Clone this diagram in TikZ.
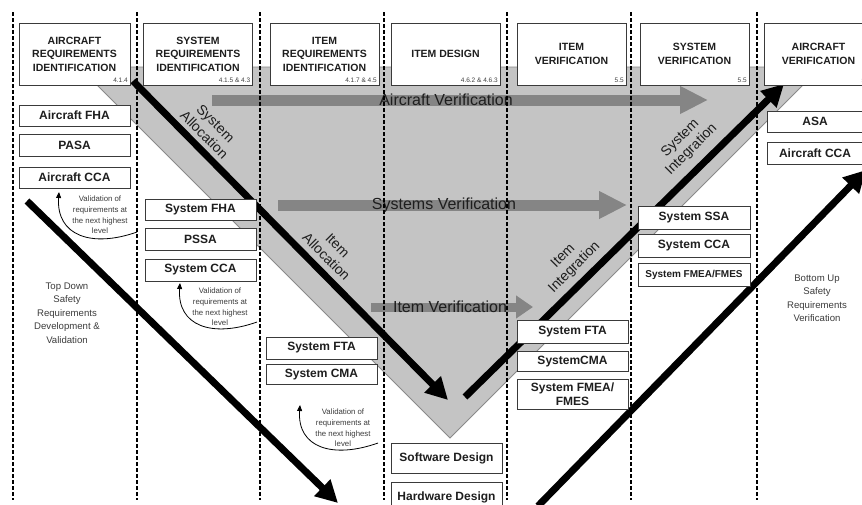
\documentclass[tikz,border=0pt]{standalone}
\usepackage{fontspec}
\setmainfont{Liberation Sans}
\usetikzlibrary{arrows.meta}
\definecolor{vfill}{HTML}{C4C4C4}
\definecolor{vedge}{HTML}{8A8A8A}
\definecolor{varw}{HTML}{858585}
\definecolor{boxline}{HTML}{3A3A3A}
\definecolor{ink}{HTML}{1E1E1E}
\definecolor{note}{HTML}{3C3C3C}
\begin{document}
\begin{tikzpicture}[x=1pt,y=-1pt,
  lane/.style={line width=1.6pt, dash pattern=on 4pt off 2pt, black},
  hdr/.style={draw=boxline, fill=white, line width=0.9pt, inner sep=0pt,
    minimum width=109pt, minimum height=62pt, align=center, text=ink,
    font=\bfseries\fontsize{10.5}{13.5}\selectfont},
  num/.style={inner sep=0pt, anchor=south east, xshift=-2.5pt, yshift=2.5pt,
    font=\fontsize{6.5}{7}\selectfont, text=ink!85},
  tbox/.style={draw=boxline, fill=white, line width=0.9pt, inner sep=0pt,
    minimum width=111pt, minimum height=22pt, align=center, text=ink,
    font=\bfseries\fontsize{12}{14}\selectfont},
  vnote/.style={align=center, inner sep=0pt, text=note,
    font=\fontsize{7.8}{10.8}\selectfont},
  side/.style={align=center, inner sep=0pt, text=note,
    font=\fontsize{9.6}{13.5}\selectfont},
  flow/.style={align=center, inner sep=0pt, text=ink,
    font=\fontsize{14}{16}\selectfont},
  vlabel/.style={inner sep=0pt, text=ink, font=\fontsize{16}{18}\selectfont},
  bigarrow/.style={line width=7pt, -{Triangle[length=22pt,width=22pt]}},
  grayarrow/.style={draw=varw, line width=11pt, -{Triangle[length=28pt,width=26pt]}},
  valarrow/.style={line width=0.8pt, -{Triangle[length=6pt,width=5pt]}}
]
\useasboundingbox (0,0) rectangle (862,504);
\clip (0,0) rectangle (862,504);
\fill[white] (0,0) rectangle (862,504);

% the V of development and verification
\filldraw[fill=vfill, draw=vedge, line width=0.8pt] (79,67) -- (821,67) -- (450,438) -- cycle;

% horizontal verification flows
\coordinate (av0) at (212,100); \coordinate (av1) at (708,100);
\coordinate (sv0) at (278,205); \coordinate (sv1) at (627,205);
\coordinate (iv0) at (371,307); \coordinate (iv1) at (533,307);
\draw[grayarrow] (av0) -- (av1);
\draw[grayarrow] (sv0) -- (sv1);
\draw[draw=varw, line width=9pt, -{Triangle[length=17pt,width=22pt]}] (iv0) -- (iv1);
\node[vlabel] (avl) at (446,100) {Aircraft Verification};
\node[vlabel] (svl) at (444,205) {Systems Verification};
\node[vlabel] (ivl) at (450,307) {Item Verification};

% lane separators
\foreach \lx in {13,137,260,384,507,631,757}
  \draw[lane] (\lx,12) -- (\lx,500);

% main flows
\coordinate (sa0) at (133,81);  \coordinate (sa1) at (448,400);
\coordinate (ii0) at (465,397); \coordinate (ii1) at (784,84);
\coordinate (td0) at (27,201);  \coordinate (td1) at (338,503);
\coordinate (bu0) at (538,506); \coordinate (bu1) at (866,170);
\draw[bigarrow] (sa0) -- (sa1);
\draw[bigarrow] (ii0) -- (ii1);
\draw[bigarrow] (td0) -- (td1);
\draw[bigarrow] (bu0) -- (bu1);

\node[flow, rotate=-45] (sal) at (210,129) {System\\Allocation};
\node[flow, rotate=-45] (ial) at (332,251) {Item\\Allocation};
\node[flow, rotate=45] (iil) at (569,262) {Item\\Integration};
\node[flow, rotate=45] (sil) at (686,144) {System\\Integration};

% lane headers
\node[hdr, minimum width=111pt] (h1) at (74.5,54) {AIRCRAFT\\REQUIREMENTS\\IDENTIFICATION};
\node[hdr] (h2) at (198,54) {SYSTEM\\REQUIREMENTS\\IDENTIFICATION};
\node[hdr] (h3) at (324.5,54) {ITEM\\REQUIREMENTS\\IDENTIFICATION};
\node[hdr] (h4) at (445.5,54) {ITEM DESIGN};
\node[hdr] (h5) at (571.5,54) {ITEM\\VERIFICATION};
\node[hdr] (h6) at (694.5,54) {SYSTEM\\VERIFICATION};
\node[hdr] (h7) at (818.5,54) {AIRCRAFT\\VERIFICATION};
\node[num] at (h1.south east) {4.1.4};
\node[num] at (h2.south east) {4.1.5 \& 4.3};
\node[num] at (h3.south east) {4.1.7 \& 4.5};
\node[num] at (h4.south east) {4.6.2 \& 4.6.3};
\node[num] at (h5.south east) {5.5};
\node[num] at (h6.south east) {5.5};
\node[num] at (h7.south east) {5.5};

% aircraft level analyses
\node[tbox, minimum height=21pt] (afha) at (74.5,115.5) {Aircraft FHA};
\node[tbox] (pasa) at (74.5,145) {PASA};
\node[tbox, minimum height=21pt] (acca) at (74.5,177.5) {Aircraft CCA};

% system level analyses
\node[tbox, minimum height=21pt] (sfha) at (200.5,209.5) {System FHA};
\node[tbox] (pssa) at (200.5,239) {PSSA};
\node[tbox] (scca) at (200.5,270) {System CCA};

% item requirement analyses
\node[tbox] (sfta) at (321.5,348) {System FTA};
\node[tbox, minimum height=20pt] (scma) at (321.5,374.5) {System CMA};

% item design
\node[tbox, minimum height=30pt] (swd) at (446.5,458) {Software Design};
\node[tbox, minimum height=30pt] (hwd) at (446.5,497) {Hardware Design};

% item verification analyses
\node[tbox, minimum height=23pt] (vfta) at (572.5,331.5) {System FTA};
\node[tbox, minimum height=20pt] (vcma) at (572.5,361.5) {SystemCMA};
\node[tbox, minimum height=30pt] (vfme) at (572.5,394) {System FMEA/\\FMES};

% system verification analyses
\node[tbox, minimum width=112pt, minimum height=23pt] (sssa) at (694,217.5) {System SSA};
\node[tbox, minimum width=112pt, minimum height=23pt] (vscc) at (694,245.5) {System CCA};
\node[tbox, minimum width=112pt, minimum height=23pt,
      font=\bfseries\fontsize{10}{12}\selectfont] (sfme) at (694,274.5) {System FMEA/FMES};

% aircraft verification analyses
\node[tbox, minimum width=96pt, minimum height=21pt] (asa) at (815,121.5) {ASA};
\node[tbox, minimum width=96pt] (vacc) at (815,153) {Aircraft CCA};

% validation loops
\node[vnote] (val1) at (100,215) {Validation of\\requirements at\\the next highest\\level};
\node[vnote] (val2) at (220,307) {Validation of\\requirements at\\the next highest\\level};
\node[vnote] (val3) at (343,428) {Validation of\\requirements at\\the next highest\\level};
\coordinate (c1a) at (137,232); \coordinate (c1b) at (59,192);
\coordinate (c2a) at (257,322); \coordinate (c2b) at (180,283);
\coordinate (c3a) at (378,443); \coordinate (c3b) at (300,405);
\draw[valarrow] (c1a) .. controls (92,248) and (56,236) .. (c1b);
\draw[valarrow] (c2a) .. controls (212,338) and (177,326) .. (c2b);
\draw[valarrow] (c3a) .. controls (333,459) and (297,448) .. (c3b);

% side notes
\node[side] (tdn) at (67,313) {Top Down\\Safety\\Requirements\\Development \&\\Validation};
\node[side] (bun) at (817,298) {Bottom Up\\Safety\\Requirements\\Verification};
\end{tikzpicture}
\end{document}
